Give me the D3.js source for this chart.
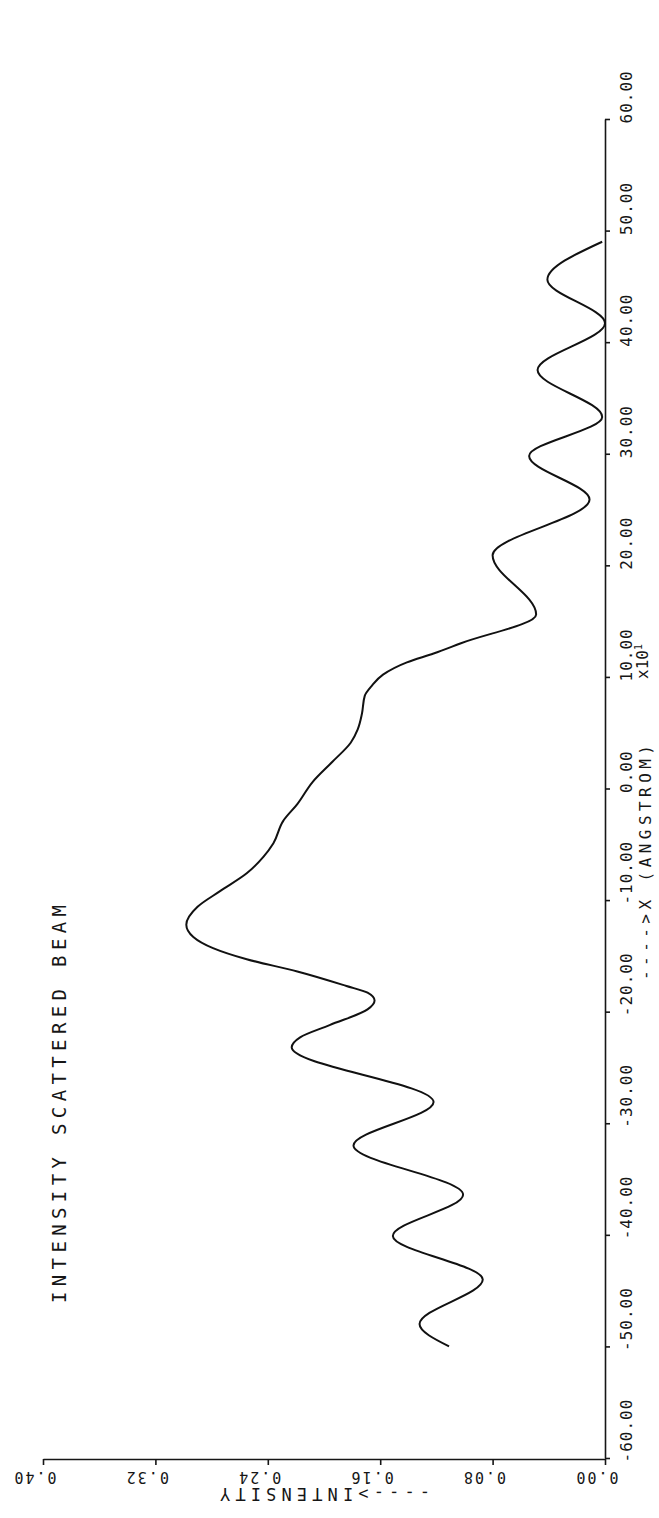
<!DOCTYPE html>
<html>
<head>
<meta charset="utf-8">
<script src="https://cdn.jsdelivr.net/npm/d3@7"></script>
<style>
  body { margin: 0; background: #fff; }
  text { font-family: "DejaVu Sans Mono", "Liberation Mono", monospace; fill: #161616; }
</style>
</head>
<body>
<svg id="chart" width="659" height="1518"></svg>
<script>
// x position in angstrom (x10^1) and the scattered intensity
const angstrom = [-50.0, -48.0, -44.0, -40.1, -36.4, -32.0, -28.1, -23.2, -22.3, -21.2, -19.8, -19.0,
  -18.3, -17.7, -16.4, -15.3, -14.3, -13.3, -12.2, -10.6, -9.2, -7.6, -6.1, -4.9, -2.9, -1.4,
  0.6, 2.4, 4.1, 5.3, 6.7, 8.3, 9.2, 10.2, 11.3, 12.1, 13.0, 15.6, 20.9, 25.9, 29.8, 33.3,
  37.5, 41.7, 45.6, 49.0];
const intensity = [0.111, 0.132, 0.087, 0.151, 0.101, 0.179, 0.122, 0.223, 0.217, 0.196, 0.169, 0.164,
  0.169, 0.184, 0.219, 0.255, 0.279, 0.293, 0.298, 0.290, 0.274, 0.255, 0.243, 0.236, 0.229, 0.219,
  0.208, 0.194, 0.181, 0.176, 0.173, 0.171, 0.166, 0.158, 0.141, 0.122, 0.103, 0.049, 0.080, 0.011, 0.054, 0.002,
  0.048, 0.000, 0.041, 0.002];

const xTicks = [-60, -50, -40, -30, -20, -10, 0, 10, 20, 30, 40, 50, 60];
const xTickLabels = ["-60.00", "-50.00", "-40.00", "-30.00", "-20.00", "-10.00", "0.00",
  "10.00", "20.00", "30.00", "40.00", "50.00", "60.00"];
const yTicks = [0, 0.08, 0.16, 0.24, 0.32, 0.40];
const yTickLabels = ["0.00", "0.08", "0.16", "0.24", "0.32", "0.40"];

const title = "INTENSITY SCATTERED BEAM";
const xTitle = "---->X (ANGSTROM)";
const yTitle = "---->INTENSITY";

const svg = d3.select("#chart");

// the plotter page is turned a quarter: angstrom runs up the page, intensity runs leftwards
const yX = d3.scaleLinear().domain([-60, 60]).range([1458, 119]);
const xI = d3.scaleLinear().domain([0, 0.40]).range([605, 43]);

// angstrom axis (right side)
const gx = svg.append("g")
  .attr("transform", "translate(605,0)")
  .call(d3.axisRight(yX).tickValues(xTicks).tickSize(5).tickSizeOuter(0)
    .tickFormat((d, i) => xTickLabels[i]));
gx.selectAll("text")
  .attr("x", null).attr("dy", null)
  .attr("text-anchor", "start")
  .attr("transform", "translate(27,4) rotate(-90)")
  .style("font-size", "16px")
  .style("letter-spacing", "1px");

// intensity axis (bottom), labels upside down
const gy = svg.append("g")
  .attr("transform", "translate(0,1459)")
  .call(d3.axisBottom(xI).tickValues(yTicks).tickSize(6).tickSizeOuter(0)
    .tickFormat((d, i) => yTickLabels[i]));
gy.selectAll("text")
  .attr("y", null).attr("dy", null)
  .attr("text-anchor", "start")
  .attr("transform", "translate(13,13) rotate(180)")
  .style("font-size", "15px")
  .style("letter-spacing", "2px");

svg.selectAll(".domain, .tick line").attr("stroke", "#161616").attr("stroke-width", 1.6);

// curve
const line = d3.line()
  .x((d, i) => xI(intensity[i]))
  .y((d, i) => yX(d))
  .curve(d3.curveMonotoneY);

svg.append("path")
  .attr("d", line(angstrom))
  .attr("fill", "none")
  .attr("stroke", "#111")
  .attr("stroke-width", 2);

// titles
svg.append("text")
  .attr("transform", "translate(66,1303) rotate(-90)")
  .attr("textLength", 398).attr("lengthAdjust", "spacing")
  .style("font-size", "19px")
  .text(title);

const x10 = svg.append("text")
  .attr("transform", `translate(648,${yX(10) + 2}) rotate(-90)`)
  .style("font-size", "16px");
x10.append("tspan").text("x10");
x10.append("tspan").attr("dy", -6).style("font-size", "10px").text("1");

svg.append("text")
  .attr("transform", "translate(651,980) rotate(-90)")
  .attr("textLength", 235).attr("lengthAdjust", "spacing")
  .style("font-size", "16px")
  .text(xTitle);

svg.append("text")
  .attr("transform", "translate(430,1488) rotate(180)")
  .attr("textLength", 210).attr("lengthAdjust", "spacing")
  .style("font-size", "17px")
  .text(yTitle);
</script>
</body>
</html>
